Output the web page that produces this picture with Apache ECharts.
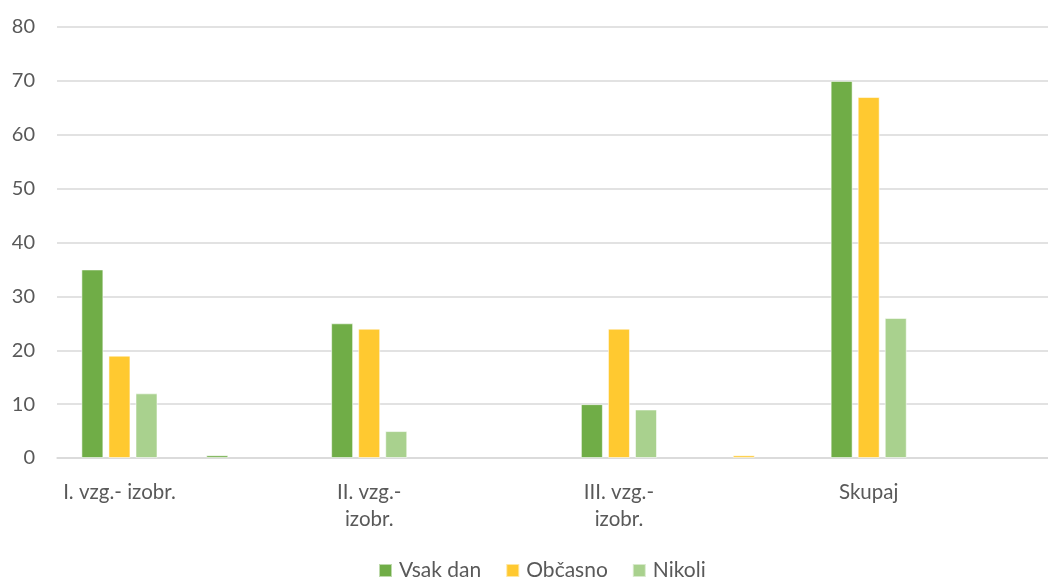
<!DOCTYPE html>
<html>
<head>
<meta charset="utf-8">
<script src="https://cdn.jsdelivr.net/npm/echarts@6/dist/echarts.min.js"></script>
<style>
  html, body { margin: 0; padding: 0; background: #ffffff; }
  #chart { width: 1048px; height: 580px; }
</style>
</head>
<body>
<div id="chart"></div>
<script>
// Education levels (every other slot is an unlabeled spacer category)
const categories = [
  'I. vzg.- izobr.', '',
  'II. vzg.-\nizobr.', '',
  'III. vzg.-\nizobr.', '',
  'Skupaj', ''
];
const seriesNames = ['Vsak dan', 'Občasno', 'Nikoli'];
const vsakDan = [35, 0.5, 25, null, 10, null, 70, null];
const obcasno = [19, null, 24, null, 24, 0.5, 67, null];
const nikoli  = [12, null, 5, null, 9, null, 26, null];
const yTicks = { min: 0, max: 80, interval: 10 };

const colors = ['#70AD47', '#FFC930', '#A9D18E'];
const textColor = '#595959';
const font = 'Lato, "Liberation Sans", sans-serif';

const chart = echarts.init(document.getElementById('chart'), null, { renderer: 'canvas' });

function barSeries(name, data, color) {
  return {
    name: name,
    type: 'bar',
    data: data,
    barWidth: 22,
    barGap: '23%',
    itemStyle: {
      color: color,
      borderColor: 'rgba(255,255,255,0.55)',
      borderWidth: 1
    }
  };
}

chart.setOption({
  animation: false,
  backgroundColor: '#ffffff',
  grid: {
    left: 57, top: 27, width: 999, height: 431,
    containLabel: false,
    outerBoundsMode: 'none'
  },
  xAxis: {
    type: 'category',
    data: categories,
    axisLine: { show: true, lineStyle: { color: '#d9d9d9', width: 1.5 } },
    axisTick: { show: false },
    axisLabel: {
      interval: 0,
      color: textColor,
      fontFamily: font,
      fontSize: 20.5,
      lineHeight: 27,
      margin: 21,
      verticalAlign: 'top'
    }
  },
  yAxis: {
    type: 'value',
    min: yTicks.min,
    max: yTicks.max,
    interval: yTicks.interval,
    axisLine: { show: false },
    axisTick: { show: false },
    splitLine: { lineStyle: { color: '#d9d9d9', width: 1.5 } },
    axisLabel: {
      color: textColor,
      fontFamily: font,
      fontSize: 20,
      margin: 22
    }
  },
  legend: {
    data: seriesNames,
    top: 555,
    left: 373,
    icon: 'rect',
    itemWidth: 13,
    itemHeight: 13,
    itemGap: 24,
    textStyle: { color: textColor, fontFamily: font, fontSize: 21, padding: [0, 0, 0, 2] }
  },
  series: [
    barSeries(seriesNames[0], vsakDan, colors[0]),
    barSeries(seriesNames[1], obcasno, colors[1]),
    barSeries(seriesNames[2], nikoli, colors[2])
  ]
});
</script>
</body>
</html>
